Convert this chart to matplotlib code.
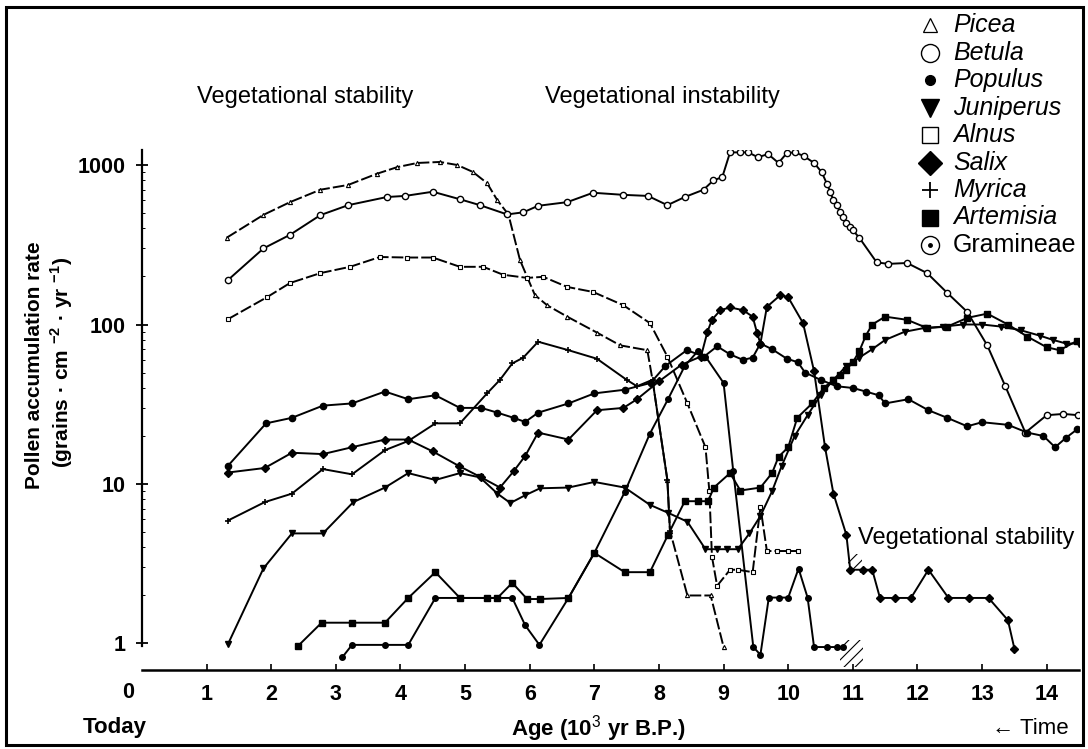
import matplotlib
matplotlib.use('Agg')
import matplotlib.pyplot as plt
from matplotlib.lines import Line2D
from matplotlib.patches import Rectangle

# ---------------- data (age in 10^3 yr B.P., pollen accumulation rate) ----------------
picea_x = [1.31, 1.88, 2.29, 2.76, 3.19, 3.63, 3.95, 4.26, 4.61, 4.88, 5.12, 5.34, 5.50, 5.67,
           5.85, 6.08, 6.27, 6.58, 7.04, 7.40, 7.82, 7.90, 8.13, 8.17, 8.44, 8.80, 9.00]
picea_y = [350, 487, 585, 700, 750, 880, 970, 1030, 1045, 1000, 905, 770, 600, 490,
           253, 153, 132, 112, 89, 74, 69, 45, 10.6, 5.1, 2.0, 2.0, 0.95]

betula_x = [1.33, 1.88, 2.29, 2.76, 3.19, 3.79, 4.07, 4.5, 4.92, 5.23, 5.65, 5.9, 6.13, 6.58, 6.98,
            7.45, 7.83, 8.13, 8.4, 8.69, 8.84, 8.98, 9.1, 9.26, 9.38, 9.53, 9.69, 9.85, 9.98, 10.1,
            10.24, 10.4, 10.52, 10.6, 10.65, 10.7, 10.75, 10.8, 10.85, 10.9, 10.95, 11.0, 11.1,
            11.37, 11.55, 11.84, 12.15, 12.46, 12.77, 13.08, 13.36, 13.67, 14.0, 14.26, 14.49]
betula_y = [190, 300, 365, 485, 560, 630, 640, 680, 610, 560, 490, 505, 555, 585, 670,
            650, 640, 560, 630, 700, 800, 840, 1200, 1200, 1200, 1120, 1170, 1030, 1190, 1200,
            1140, 1030, 900, 760, 680, 600, 560, 510, 470, 430, 410, 390, 350,
            245, 240, 243, 210, 158, 120, 74, 41, 21, 27, 27.5, 27]

alnus_x = [1.33, 1.93, 2.29, 2.76, 3.22, 3.68, 4.1, 4.5, 4.92, 5.28, 5.59, 5.96, 6.21, 6.58, 6.98,
           7.45, 7.86, 8.13, 8.44, 8.72, 8.78, 8.82, 8.9, 9.1, 9.22, 9.45, 9.57, 9.67, 9.83, 9.99, 10.15]
alnus_y = [108, 148, 182, 210, 230, 265, 263, 263, 230, 230, 205, 196, 199, 172, 160,
           132, 102, 63, 32, 17, 9, 3.5, 2.3, 2.9, 2.9, 2.8, 7.2, 3.8, 3.8, 3.8, 3.8]

populus_x = [1.33, 1.92, 2.32, 2.8, 3.25, 3.76, 4.12, 4.54, 4.92, 5.25, 5.5, 5.75, 5.93, 6.13, 6.6,
             7.0, 7.47, 7.87, 8.1, 8.43, 8.7, 8.9, 9.1, 9.3, 9.45, 9.57, 9.75, 9.98, 10.15, 10.26,
             10.5, 10.75, 11.0, 11.2, 11.4, 11.5, 11.86, 12.17, 12.46, 12.77, 13.0, 13.4, 13.7,
             13.95, 14.13, 14.3, 14.47]
populus_y = [13, 24, 26, 31, 32, 38, 34, 36, 30, 30, 28, 26, 24.5, 28, 32,
             37, 39, 43, 55, 69, 63, 73, 65, 60, 62, 76, 70, 61, 58, 50,
             45, 41, 40, 38, 36, 32, 34, 29, 26, 23, 24.4, 23.5, 21,
             20, 17, 19.5, 22]

salix_x = [1.33, 1.9, 2.32, 2.8, 3.25, 3.76, 4.12, 4.5, 4.9, 5.25, 5.54, 5.75, 5.93, 6.13, 6.6,
           7.04, 7.45, 7.66, 8.0, 8.35, 8.65, 8.75, 8.82, 8.95, 9.1, 9.3, 9.45, 9.52, 9.57, 9.67,
           9.88, 10.0, 10.23, 10.4, 10.57, 10.7, 10.9, 10.96, 11.15, 11.3, 11.42, 11.65, 11.9,
           12.17, 12.48, 12.8, 13.1, 13.4, 13.5]
salix_y = [11.8, 12.6, 15.7, 15.4, 17, 19, 19, 16, 13, 11, 9.5, 12, 15, 21, 19,
           29, 30, 34, 44, 56, 63, 90, 107, 123, 128, 123, 112, 88, 76, 129,
           153, 148, 102, 51, 17, 8.7, 4.8, 2.9, 2.9, 2.9, 1.93, 1.93, 1.93,
           2.9, 1.93, 1.93, 1.93, 1.4, 0.93]

juniperus_x = [1.33, 1.88, 2.32, 2.8, 3.27, 3.76, 4.12, 4.54, 4.92, 5.23, 5.5, 5.7, 5.93, 6.16, 6.6,
               7.0, 7.47, 7.86, 8.14, 8.44, 8.72, 8.9, 9.05, 9.22, 9.4, 9.57, 9.75, 9.9, 10.1, 10.3,
               10.5, 10.7, 10.9, 11.1, 11.3, 11.5, 11.8, 12.1, 12.4, 12.7, 13.0, 13.3, 13.6, 13.9,
               14.1, 14.3, 14.5]
juniperus_y = [0.99, 2.96, 4.9, 4.9, 7.7, 9.5, 11.7, 10.6, 11.7, 11, 8.7, 7.6, 8.5, 9.4, 9.5,
               10.3, 9.5, 7.4, 6.6, 5.8, 3.9, 3.9, 3.9, 3.9, 4.9, 6.3, 9, 13, 20, 27,
               36, 45, 55, 62, 70, 80, 90, 95, 97, 100, 100, 97, 92, 85,
               80, 76, 76]

myrica_x = [1.33, 1.9, 2.32, 2.8, 3.25, 3.76, 4.12, 4.54, 4.92, 5.34, 5.54, 5.73, 5.9, 6.13, 6.6,
            7.04, 7.5, 7.66, 7.9, 8.13, 8.17]
myrica_y = [5.9, 7.7, 8.7, 12.4, 11.5, 16.3, 18.6, 24, 24, 37, 45, 57, 62, 78, 69,
            61, 45, 41, 45, 10.6, 5.1]

artemisia_x = [2.42, 2.78, 3.25, 3.76, 4.12, 4.54, 4.92, 5.34, 5.5, 5.73, 5.96, 6.16, 6.6, 7.0, 7.47,
               7.86, 8.14, 8.4, 8.6, 8.76, 8.85, 9.1, 9.26, 9.57, 9.75, 9.85, 10.0, 10.14, 10.37, 10.55,
               10.7, 10.8, 10.9, 11.0, 11.1, 11.2, 11.3, 11.5, 11.84, 12.15, 12.46, 12.77, 13.08, 13.4,
               13.7, 14.0, 14.2, 14.47]
artemisia_y = [0.97, 1.35, 1.35, 1.35, 1.93, 2.8, 1.93, 1.93, 1.93, 2.4, 1.9, 1.9, 1.93, 3.7, 2.8,
               2.8, 4.8, 7.8, 7.8, 7.8, 9.5, 11.7, 9.1, 9.5, 11.7, 14.8, 17, 26, 32, 40,
               45, 48, 52, 58, 68, 85, 100, 112, 107, 95, 97, 110, 117, 100,
               84, 72, 69, 79]

gramineae_x = [3.1, 3.25, 3.76, 4.12, 4.54, 4.92, 5.34, 5.5, 5.73, 5.93, 6.15, 6.6, 7.0, 7.47, 7.86,
               8.14, 8.4, 8.6, 8.72, 9.0, 9.15, 9.46, 9.57, 9.7, 9.85, 10.0, 10.16, 10.3, 10.4, 10.6,
               10.75, 10.85]
gramineae_y = [0.82, 0.98, 0.98, 0.98, 1.93, 1.93, 1.93, 1.93, 1.93, 1.3, 0.98, 1.93, 3.7, 8.9, 20.7,
               34, 55, 68, 63, 43, 12, 0.95, 0.85, 1.94, 1.94, 1.94, 2.95, 1.94, 0.95, 0.95,
               0.95, 0.95]

taxa = ['Picea', 'Betula', 'Populus', 'Juniperus', 'Alnus', 'Salix', 'Myrica', 'Artemisia', 'Gramineae']
x_ticks = list(range(1, 15))
y_ticks = [1, 10, 100, 1000]
y_tick_labels = ['1', '10', '100', '1000']
y_minor = [m * d for d in (1, 10, 100) for m in range(2, 10)]

# ---------------- figure ----------------
plt.rcParams['font.family'] = ['Liberation Sans', 'DejaVu Sans']
plt.rcParams['hatch.linewidth'] = 0.8
plt.rcParams['mathtext.fontset'] = 'custom'
plt.rcParams['mathtext.rm'] = 'Liberation Sans'
plt.rcParams['mathtext.bf'] = 'Liberation Sans:bold'

W, H = 1088, 749
fig = plt.figure(figsize=(W / 100, H / 100), dpi=100)
fig.patch.set_facecolor('white')
ax = fig.add_axes([142 / W, (H - 670) / H, (1079 - 142) / W, (670 - 150) / H])
ax.set_yscale('log')
ax.set_xlim(0, 14.5)
ax.set_ylim(0.682, 1242)

K = 'black'
dash = (0, (6, 1.6))
series = [
    (picea_x, picea_y, dict(ls=dash, marker='^', ms=3, mfc='white', mew=0.8)),
    (betula_x, betula_y, dict(ls='-', marker='o', ms=4.5, mfc='white', mew=1.0)),
    (alnus_x, alnus_y, dict(ls=dash, marker='s', ms=3, mfc='white', mew=0.8)),
    (populus_x, populus_y, dict(ls='-', marker='o', ms=4.5)),
    (salix_x, salix_y, dict(ls='-', marker='D', ms=4)),
    (juniperus_x, juniperus_y, dict(ls='-', marker='v', ms=5)),
    (myrica_x, myrica_y, dict(ls='-', marker='+', ms=5, mew=1.2)),
    (artemisia_x, artemisia_y, dict(ls='-', marker='s', ms=4.2)),
    (gramineae_x, gramineae_y, dict(ls='-', marker='o', ms=4)),
]
for xs, ys, st in series:
    ax.plot(xs, ys, color=K, lw=1.4, mec=K, **({'mfc': K} | st))

# break hatching near 11
ax.add_patch(Rectangle((10.8, 0.71), 0.35, 0.34, hatch='///', fill=False, lw=0, ec=K))
ax.add_patch(Rectangle((10.92, 2.75), 0.22, 0.9, hatch='///', fill=False, lw=0, ec=K))

# axes styling
for s in ['top', 'right']:
    ax.spines[s].set_visible(False)
ax.spines['left'].set_bounds(0.97, 1250)
ax.spines['left'].set_linewidth(1.6)
ax.spines['bottom'].set_linewidth(1.8)

ax.set_yticks(y_ticks)
ax.set_yticklabels(y_tick_labels)
ax.yaxis.set_minor_locator(matplotlib.ticker.FixedLocator(y_minor))
ax.yaxis.set_minor_formatter(matplotlib.ticker.NullFormatter())
ax.tick_params(axis='y', which='major', direction='inout', length=8, width=1.3, pad=8,
               labelsize=15.5)
ax.tick_params(axis='y', which='minor', direction='in', length=2.5, width=0.7)
ax.set_xticks(x_ticks)
ax.set_xticklabels([str(t) for t in x_ticks])
ax.tick_params(axis='x', which='major', direction='in', length=4, width=1.2, pad=10,
               labelsize=15.5)
for lab in ax.get_xticklabels() + ax.get_yticklabels():
    lab.set_fontweight('bold')

# texts
def ftext(px, py, s, **kw):
    fig.text(px / W, 1 - py / H, s, **kw)

ftext(128, 693, '0', ha='center', va='center', fontsize=15.5, fontweight='bold')
ftext(115, 728, 'Today', ha='center', va='center', fontsize=16, fontweight='bold')
ftext(598, 729, 'Age (10$^{3}$ yr B.P.)', ha='center', va='center', fontsize=16, fontweight='bold')
ftext(1030, 728, '\u2190 Time', ha='center', va='center', fontsize=16)
ftext(35, 365, 'Pollen accumulation rate', ha='center', va='center', rotation=90,
      fontsize=15, fontweight='bold')
ftext(62, 362, '(grains \u00b7 cm $^{\\mathbf{-2}}$ \u00b7 yr $^{\\mathbf{-1}}$)', ha='center',
      va='center', rotation=90, fontsize=15, fontweight='bold')
ftext(197, 97, 'Vegetational stability', ha='left', va='center', fontsize=17)
ftext(545, 97, 'Vegetational instability', ha='left', va='center', fontsize=17)
ftext(858, 538, 'Vegetational stability', ha='left', va='center', fontsize=17)

# legend (manual)
leg_markers = [
    dict(marker='^', ms=10, mfc='white', mew=0.9),
    dict(marker='o', ms=13, mfc='white', mew=1.0),
    dict(marker='o', ms=7),
    dict(marker='v', ms=13),
    dict(marker='s', ms=12, mfc='white', mew=1.0),
    dict(marker='D', ms=12),
    dict(marker='+', ms=11, mew=1.3),
    dict(marker='s', ms=11),
    dict(marker='o', ms=13, mfc='white', mew=1.0),
]
for i, (name, mk) in enumerate(zip(taxa, leg_markers)):
    yy = 25 + 27.5 * i
    fig.add_artist(Line2D([930 / W], [1 - yy / H], transform=fig.transFigure, color=K,
                          ls='none', mec=K, **({'mfc': K} | mk)))
    ftext(953, yy, name, ha='left', va='center', fontsize=18,
          style='normal' if name == 'Gramineae' else 'italic')
fig.add_artist(Line2D([930 / W], [1 - (25 + 27.5 * 8) / H], transform=fig.transFigure,
                      ls='none', marker='o', ms=2.5, color=K))

# outer frame
fig.add_artist(Rectangle((6 / W, 4 / H), (1083 - 6) / W, (745 - 7) / H, transform=fig.transFigure,
                         fill=False, lw=2.2, ec=K))

fig.savefig('out.png', dpi=100, facecolor='white')
